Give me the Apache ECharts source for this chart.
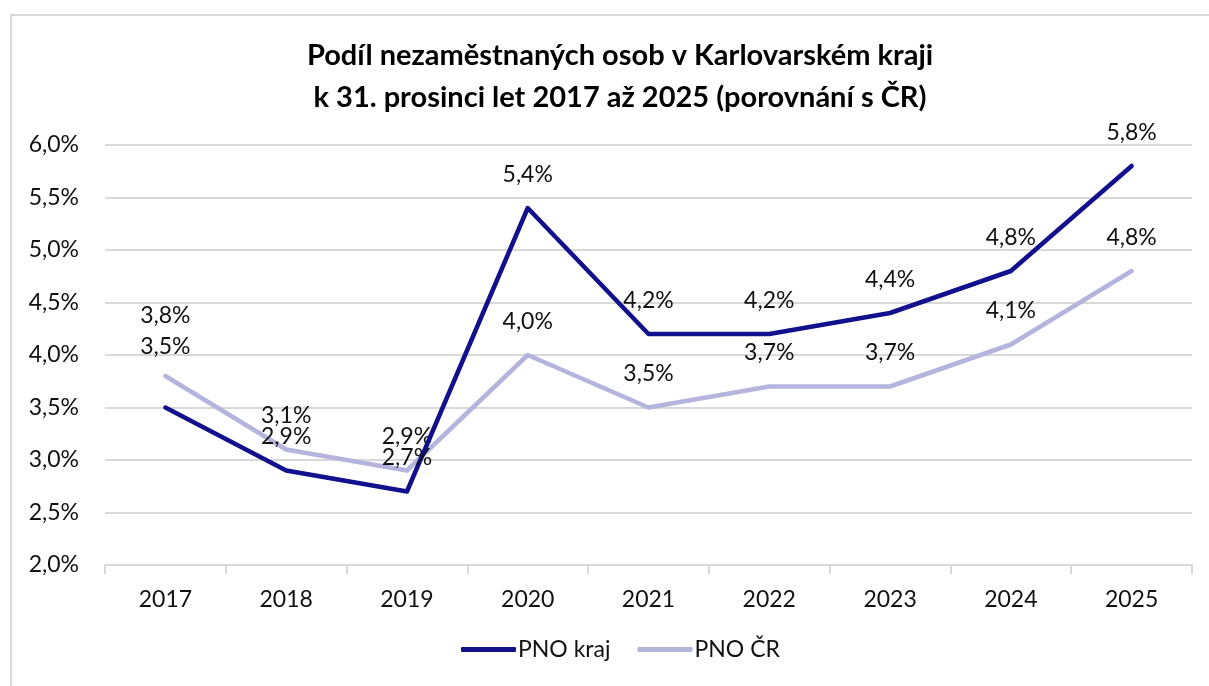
<!DOCTYPE html>
<html>
<head>
<meta charset="utf-8">
<script src="https://cdn.jsdelivr.net/npm/echarts@6/dist/echarts.min.js"></script>
<style>
  html, body { margin: 0; padding: 0; background: #fff; }
  #frame { position: absolute; left: 10px; top: 14px; width: 1210px; height: 690px; border: 2px solid #d9d9d9; box-sizing: border-box; }
  #chart { width: 1209px; height: 686px; position: absolute; left: 0; top: 0; }
</style>
</head>
<body>
<div id="frame"></div>
<div id="chart"></div>
<script>
// roky
const years = ['2017', '2018', '2019', '2020', '2021', '2022', '2023', '2024', '2025'];
// podíl nezaměstnaných osob (%)
const pnoKraj = [3.5, 2.9, 2.7, 5.4, 4.2, 4.2, 4.4, 4.8, 5.8];
const pnoCR = [3.8, 3.1, 2.9, 4.0, 3.5, 3.7, 3.7, 4.1, 4.8];
const seriesNames = ['PNO kraj', 'PNO ČR'];
const titleLines = ['Podíl nezaměstnaných osob v Karlovarském kraji', 'k 31. prosinci let 2017 až 2025 (porovnání s ČR)'];

const FONT = 'Lato, "Open Sans", sans-serif';
const fmt = v => v.toFixed(1).replace('.', ',') + '%';

// první popisky v Excelu posunuté výš
function buildData(values) {
  return values.map((v, i) => {
    if (i === 0) {
      return { value: v, label: { offset: [0, -27] } };
    }
    return v;
  });
}

const chart = echarts.init(document.getElementById('chart'), null, { renderer: 'canvas' });

const lineSeries = (name, values, color, z) => ({
  name: name,
  type: 'line',
  data: buildData(values),
  symbol: 'circle',
  symbolSize: 0,
  showSymbol: true,
  z: z,
  lineStyle: { color: color, width: 4.5, cap: 'round', join: 'round' },
  itemStyle: { color: color },
  label: {
    show: true,
    position: 'top',
    distance: 22,
    color: '#111',
    fontFamily: FONT,
    fontSize: 23,
    formatter: p => fmt(p.value)
  }
});

chart.setOption({
  animation: false,
  title: {
    text: titleLines.join('\n'),
    left: 615,
    textAlign: 'center',
    top: 30,
    textStyle: { fontFamily: FONT, fontWeight: 'bold', fontSize: 29, color: '#000', lineHeight: 42 }
  },
  legend: {
    data: seriesNames,
    bottom: 20,
    left: 456,
    itemWidth: 55,
    itemHeight: 5,
    itemGap: 27,
    icon: 'roundRect',
    textStyle: { fontFamily: FONT, fontSize: 23, color: '#111', padding: [0, 0, 0, -3] }
  },
  grid: { left: 105, right: 17, top: 145, bottom: 121 },
  xAxis: {
    type: 'category',
    data: years,
    boundaryGap: true,
    axisLine: { lineStyle: { color: '#d9d9d9', width: 2 } },
    axisTick: { show: true, length: 9, lineStyle: { color: '#d9d9d9', width: 2 } },
    axisLabel: { fontFamily: FONT, fontSize: 23, color: '#111', margin: 23 }
  },
  yAxis: {
    type: 'value',
    min: 2,
    max: 6,
    interval: 0.5,
    axisLine: { show: false },
    axisTick: { show: false },
    splitLine: { lineStyle: { color: '#d9d9d9', width: 2 } },
    axisLabel: { fontFamily: FONT, fontSize: 23, color: '#111', margin: 26, formatter: v => fmt(v) }
  },
  series: [
    lineSeries(seriesNames[0], pnoKraj, '#12108c', 3),
    lineSeries(seriesNames[1], pnoCR, '#b4b4dc', 2)
  ]
});
</script>
</body>
</html>
